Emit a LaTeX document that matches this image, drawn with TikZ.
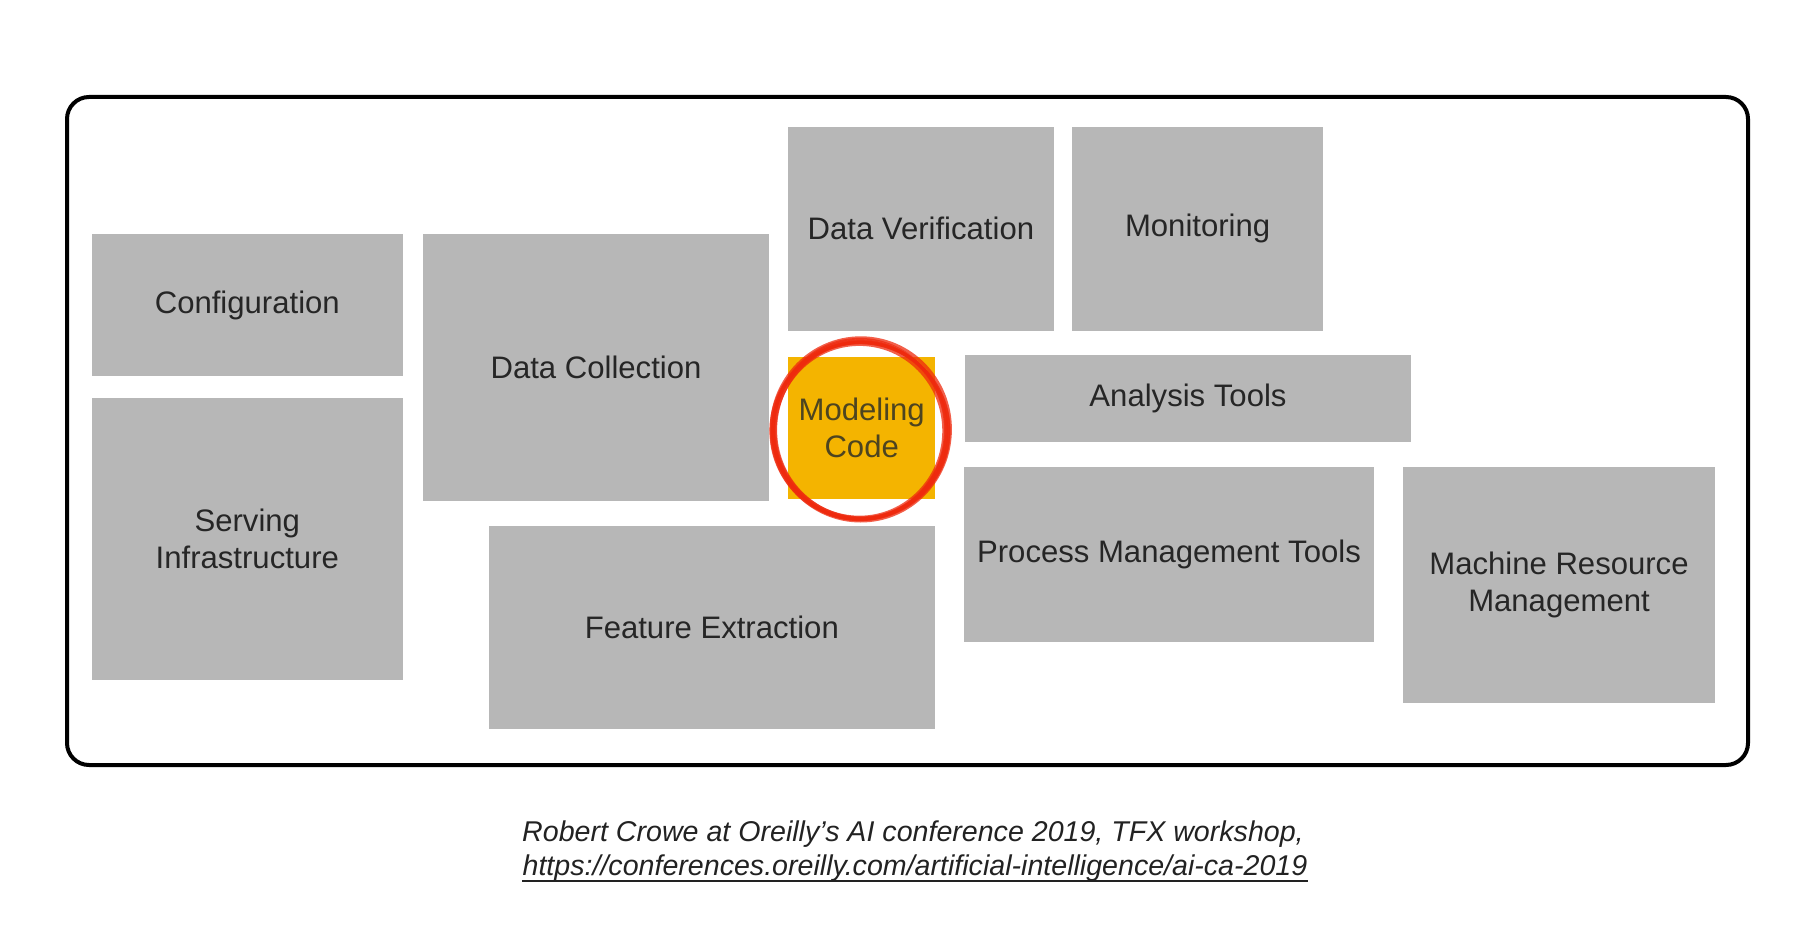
\documentclass[tikz,border=0pt]{standalone}
\usepackage{fontspec}
\setmainfont{Liberation Sans}
\begin{document}
\begin{tikzpicture}[x=1pt,y=-1pt,
  box/.style={fill=boxgray, draw=none, inner sep=0pt, align=center, text=txtgray,
    font=\fontsize{31.1}{36.7}\selectfont},
  frame/.style={draw=black, line width=4pt, rounded corners=22pt},
  brush/.style={draw=ringred, line width=3.2pt, opacity=0.75},
  captext/.style={text=captxt, inner sep=0pt, anchor=base, font=\fontsize{28.6}{34}\selectfont\itshape},
]
\definecolor{boxgray}{HTML}{B7B7B7}
\definecolor{txtgray}{HTML}{262626}
\definecolor{codeorange}{HTML}{F4B400}
\definecolor{codetxt}{HTML}{4D4420}
\definecolor{ringred}{HTML}{EE2A0E}
\definecolor{captxt}{HTML}{222222}
\useasboundingbox (0,0) rectangle (1820,933);
\fill[white] (0,0) rectangle (1820,933);

\draw[frame] (67,97) rectangle (1748,765);

\node[box, minimum width=311.4, minimum height=142] (config) at (247.3,305) {Configuration};
\node[box, minimum width=311.4, minimum height=282] (serving) at (247.3,539) {Serving\\Infrastructure};
\node[box, minimum width=346, minimum height=266.7] (collect) at (596,367.4) {Data Collection};
\node[box, minimum width=265.8, minimum height=204] (verify) at (920.9,228.7) {Data Verification};
\node[box, minimum width=250.8, minimum height=204] (monitor) at (1197.6,228.7) {Monitoring};
\node[box, fill=codeorange, text=codetxt, minimum width=147.4, minimum height=142.6] (model) at (861.7,428) {Modeling\\Code};
\node[box, minimum width=446, minimum height=86.5] (analysis) at (1188,398.3) {Analysis Tools};
\node[box, minimum width=410, minimum height=174.7] (process) at (1169,554.4) {Process Management Tools};
\node[box, minimum width=312, minimum height=236] (machine) at (1559,585) {Machine Resource\\Management};
\node[box, minimum width=446.5, minimum height=203.8] (feature) at (711.8,627.4) {Feature Extraction};

\coordinate (ring) at (860,430);
\foreach \rx/\ry/\dx/\dy in {87/89/0/0, 89.5/91.5/0.8/-0.6, 84.5/86.5/-0.6/0.8, 88/88/0.5/0.6, 86/90/-0.4/-0.5, 89/88.5/0/1, 85.5/88/1/0}
  \draw[brush] ([shift={(\dx,\dy)}]ring) ellipse[x radius=\rx, y radius=\ry];

\node[captext] (cap1) at (913,841) {Robert Crowe at Oreilly’s AI conference 2019, TFX workshop,};
\node[captext] (cap2) at (915,875) {https://conferences.oreilly.com/artificial-intelligence/ai-ca-2019};
\draw[captxt, line width=1.2pt] ([yshift=-6pt]cap2.base west) -- ([yshift=-6pt]cap2.base east);
\end{tikzpicture}
\end{document}
